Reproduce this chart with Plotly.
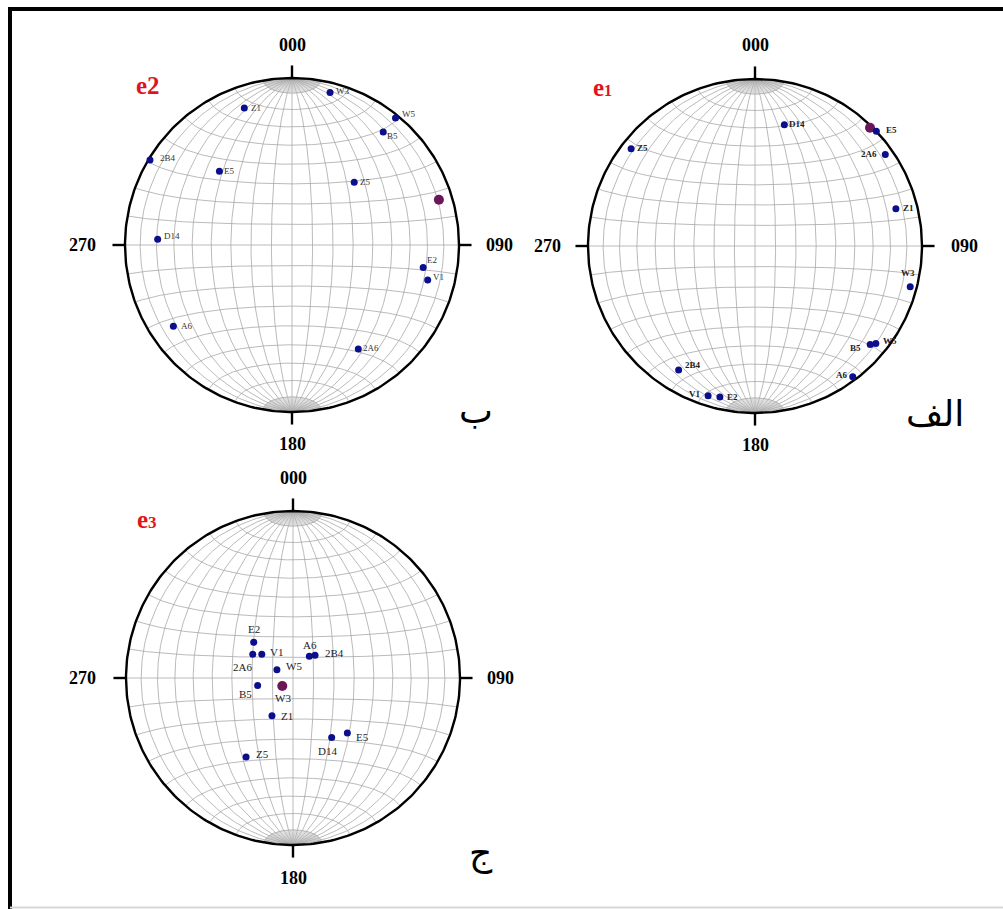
import numpy as np
import plotly.graph_objects as go

# ---------------- data (trend / plunge in degrees, lower hemisphere) ----------------
e1_labels = ["D14", "E5", "Z5", "2A6", "Z1", "W3", "W5", "B5", "A6", "2B4", "V1", "E2"]
e1_trend = [13.6, 46.6, 308.1, 54.9, 75.2, 104.7, 128.9, 130.5, 143.2, 211.6, 197.4, 193.1]
e1_plunge = [26.2, 0.0, 6.4, 5.2, 13.8, 4.4, 7.8, 10.2, 2.6, 13.8, 6.8, 8.0]
e1_mean = [44.2, 1.4]

e2_labels = ["W3", "Z1", "W5", "B5", "2B4", "E5", "Z5", "D14", "E2", "V1", "A6", "2A6"]
e2_trend = [14.0, 340.8, 39.2, 38.9, 300.9, 315.5, 44.8, 272.4, 99.7, 104.5, 235.6, 147.5]
e2_plunge = [6.5, 14.2, 2.2, 14.1, 1.0, 38.0, 46.1, 20.6, 21.4, 17.2, 15.0, 27.0]
e2_mean = [72.9, 8.8]

e3_labels = ["E2", "2A6", "V1", "A6", "2B4", "W5", "B5", "W3", "Z1", "D14", "E5", "Z5"]
e3_trend = [312.3, 300.5, 307.2, 37.0, 44.1, 297.5, 258.2, 233.1, 209.1, 147.0, 135.3, 210.7]
e3_plunge = [64.0, 67.2, 70.9, 76.8, 74.6, 81.2, 72.4, 83.5, 68.9, 55.0, 51.8, 44.2]
e3_mean = [233.1, 83.5]

direction_labels = ["000", "090", "180", "270"]
direction_angles = [0, 90, 180, 270]
panel_titles = {"e1": "e<span style='font-size:16px'>1</span>",
                "e2": "e2",
                "e3": "e<span style='font-size:17px'>3</span>"}
panel_letters = {"e1": "الف", "e2": "ب", "e3": "ج"}

# ---------------- layout / style ----------------
W, H = 1003, 909
R_PX = 167
HALF = 1.3
centers = {"e2": (292, 245), "e1": (755, 246), "e3": (293, 678)}
axis_ids = {"e2": "", "e1": "2", "e3": "3"}
BLUE = "#0c0f8c"
PURPLE = "#6a1658"
GRID = "#a8a8a8"
SERIF = "Liberation Serif"

# label offsets (px): dx, dy (up positive), xanchor
label_style = {
    "e2": {"W3": (4, 1, "left"), "Z1": (5, 0, "left"), "W5": (4, 4, "left"),
           "B5": (2, -4, "left"), "2B4": (8, 2, "left"), "E5": (3, 0, "left"),
           "Z5": (4, 0, "left"), "D14": (4, 3, "left"), "E2": (2, 7, "left"),
           "V1": (3, 3, "left"), "A6": (6, 0, "left"), "2A6": (3, 1, "left")},
    "e1": {"D14": (3, 1, "left"), "E5": (8, 1, "left"), "Z5": (4, 1, "left"),
           "2A6": (-6, 0, "right"), "Z1": (5, 1, "left"), "W3": (-2, 14, "center"),
           "W5": (5, 2, "left"), "B5": (-7, -4, "right"), "A6": (-3, 2, "right"),
           "2B4": (4, 5, "left"), "V1": (-5, 2, "right"), "E2": (5, 0, "left")},
    "e3": {"E2": (0, 13, "center"), "2A6": (-10, -13, "center"), "V1": (6, 2, "left"),
           "A6": (1, 11, "center"), "2B4": (8, 2, "left"), "W5": (7, 4, "left"),
           "B5": (-12, -9, "center"), "W3": (1, -12, "center"), "Z1": (7, 0, "left"),
           "D14": (-4, -13, "center"), "E5": (7, -4, "left"), "Z5": (8, 3, "left")},
}
label_font = {"e1": dict(family=SERIF, size=9, color="#222"),
              "e2": dict(family=SERIF, size=9, color="#333"),
              "e3": dict(family=SERIF, size=11, color="#222")}
label_bold = {"e1": True, "e2": False, "e3": False}


def project(trend, plunge):
    t = np.radians(np.asarray(trend, dtype=float))
    p = np.radians(np.asarray(plunge, dtype=float))
    x = np.cos(p) * np.sin(t)
    y = np.cos(p) * np.cos(t)
    z = np.sin(p)
    s = 1.0 / np.sqrt(1.0 + z)
    return x * s, y * s


def proj_vec(x, y, z):
    s = 1.0 / np.sqrt(1.0 + z)
    return x * s, y * s


def net_lines():
    gx, gy = [], []
    fx, fy = [], []
    t = np.radians(np.linspace(0, 180, 181))
    # great circles through N-S (dips every 10 deg)
    for dip in range(10, 90, 10):
        d = np.radians(dip)
        for sgn in (1, -1):
            x = np.sin(t) * np.cos(d) * sgn
            y = np.cos(t)
            z = np.sin(t) * np.sin(d)
            X, Y = proj_vec(x, y, z)
            gx += list(X) + [None]
            gy += list(Y) + [None]
    gx += [0, 0, None]
    gy += [1, -1, None]
    # small circles about N and S
    for a in range(10, 90, 10):
        al = np.radians(a)
        phi = np.radians(np.linspace(0, 180, 121))
        for sgn in (1, -1):
            x = np.sin(al) * np.cos(phi)
            y = np.cos(al) * np.ones_like(phi) * sgn
            z = np.sin(al) * np.sin(phi)
            X, Y = proj_vec(x, y, z)
            gx += list(X) + [None]
            gy += list(Y) + [None]
    gx += [-1, 1, None]
    gy += [0, 0, None]
    # dense fan near poles (2 deg great circles within 10 deg of poles)
    tp = np.radians(np.linspace(0, 10, 11))
    for dip in range(2, 90, 2):
        if dip % 10 == 0:
            continue
        d = np.radians(dip)
        for sgn in (1, -1):
            for pole in (1, -1):
                x = np.sin(tp) * np.cos(d) * sgn
                y = np.cos(tp) * pole
                z = np.sin(tp) * np.sin(d)
                X, Y = proj_vec(x, y, z)
                fx += list(X) + [None]
                fy += list(Y) + [None]
    return gx, gy, fx, fy


fig = go.Figure()
GX, GY, FX, FY = net_lines()
circ = np.radians(np.linspace(0, 360, 361))

panels = {
    "e1": (e1_labels, e1_trend, e1_plunge, e1_mean, "under"),
    "e2": (e2_labels, e2_trend, e2_plunge, e2_mean, "under"),
    "e3": (e3_labels, e3_trend, e3_plunge, e3_mean, "over"),
}

annotations = []
for key in ["e2", "e1", "e3"]:
    labels, trend, plunge, mean, order = panels[key]
    aid = axis_ids[key]
    xa, ya = "x" + aid, "y" + aid
    # grid
    fig.add_trace(go.Scatter(x=FX, y=FY, mode="lines", xaxis=xa, yaxis=ya,
                             line=dict(color="#c8c8c8", width=0.6), hoverinfo="skip", showlegend=False))
    fig.add_trace(go.Scatter(x=GX, y=GY, mode="lines", xaxis=xa, yaxis=ya,
                             line=dict(color=GRID, width=0.8), hoverinfo="skip", showlegend=False))
    # primitive circle
    fig.add_trace(go.Scatter(x=np.sin(circ), y=np.cos(circ), mode="lines", xaxis=xa, yaxis=ya,
                             line=dict(color="black", width=2.4), hoverinfo="skip", showlegend=False))
    # ticks
    tx, ty = [], []
    for ang in direction_angles:
        a = np.radians(ang)
        tx += [np.sin(a), 1.075 * np.sin(a), None]
        ty += [np.cos(a), 1.075 * np.cos(a), None]
    fig.add_trace(go.Scatter(x=tx, y=ty, mode="lines", xaxis=xa, yaxis=ya,
                             line=dict(color="black", width=2.4), hoverinfo="skip", showlegend=False))
    px_, py_ = project(trend, plunge)
    mx, my = project([mean[0]], [mean[1]])
    mean_tr = go.Scatter(x=mx, y=my, mode="markers", xaxis=xa, yaxis=ya,
                         marker=dict(color=PURPLE, size=10, line=dict(width=0)),
                         hoverinfo="skip", showlegend=False, cliponaxis=False)
    pts_tr = go.Scatter(x=px_, y=py_, mode="markers", xaxis=xa, yaxis=ya,
                        marker=dict(color=BLUE, size=7, line=dict(width=0)),
                        hoverinfo="skip", showlegend=False, cliponaxis=False)
    if order == "under":
        fig.add_trace(mean_tr)
        fig.add_trace(pts_tr)
    else:
        fig.add_trace(pts_tr)
        fig.add_trace(mean_tr)
    # point labels
    for lab, X, Y in zip(labels, px_, py_):
        dx, dy, anc = label_style[key][lab]
        txt = "<b>" + lab + "</b>" if label_bold[key] else lab
        annotations.append(dict(x=X, y=Y, xref=xa, yref=ya, text=txt, showarrow=False,
                                xanchor=anc, yanchor="middle", xshift=dx, yshift=dy,
                                font=label_font[key]))
    # direction labels
    if key == "e1":
        dpos = {"000": (0, 1.205), "090": (1.257, 0), "180": (0, -1.19), "270": (-1.24, 0)}
    elif key == "e2":
        dpos = {"000": (0, 1.198), "090": (1.245, 0), "180": (0, -1.19), "270": (-1.257, 0)}
    else:
        dpos = {"000": (0, 1.198), "090": (1.24, 0), "180": (0, -1.198), "270": (-1.263, 0)}
    for lab in direction_labels:
        X, Y = dpos[lab]
        annotations.append(dict(x=X, y=Y, xref=xa, yref=ya, text="<b>" + lab + "</b>",
                                showarrow=False, xanchor="center", yanchor="middle",
                                font=dict(family=SERIF, size=18, color="black")))
    # panel title
    tpos = {"e1": (-0.915, 0.95), "e2": (-0.862, 0.958), "e3": (-0.875, 0.95)}[key]
    annotations.append(dict(x=tpos[0], y=tpos[1], xref=xa, yref=ya,
                            text="<b>" + panel_titles[key] + "</b>", showarrow=False,
                            xanchor="center", yanchor="middle",
                            font=dict(family=SERIF, size=25, color="#e0141e")))
    # panel letter
    lpos = {"e1": (1.08, -1.0), "e2": (1.1, -0.99), "e3": (1.126, -1.05)}[key]
    annotations.append(dict(x=lpos[0], y=lpos[1], xref=xa, yref=ya,
                            text=panel_letters[key], showarrow=False,
                            xanchor="center", yanchor="middle",
                            font=dict(family="DejaVu Sans", size=36, color="black")))

layout_axes = {}
for key, (cx, cy) in centers.items():
    aid = axis_ids[key]
    half_px = HALF * R_PX
    xd = [(cx - half_px) / W, (cx + half_px) / W]
    yb = H - cy
    yd = [(yb - half_px) / H, (yb + half_px) / H]
    layout_axes["xaxis" + aid] = dict(domain=xd, range=[-HALF, HALF], visible=False,
                                      fixedrange=True, anchor="y" + aid)
    layout_axes["yaxis" + aid] = dict(domain=yd, range=[-HALF, HALF], visible=False,
                                      fixedrange=True, anchor="x" + aid)

shapes = [
    dict(type="line", xref="paper", yref="paper", x0=8 / W, x1=1.0, y0=1 - 9 / H, y1=1 - 9 / H,
         line=dict(color="black", width=4)),
    dict(type="line", xref="paper", yref="paper", x0=10 / W, x1=10 / W, y0=1 - 7 / H, y1=0,
         line=dict(color="black", width=4)),
    dict(type="line", xref="paper", yref="paper", x0=10 / W, x1=1.0, y0=1.5 / H, y1=1.5 / H,
         line=dict(color="#d8d8d8", width=2)),
]

fig.update_layout(width=W, height=H, margin=dict(l=0, r=0, t=0, b=0),
                  paper_bgcolor="white", plot_bgcolor="white",
                  annotations=annotations, shapes=shapes, showlegend=False,
                  **layout_axes)

fig.write_html("out.html", config={"displayModeBar": False},
               post_script="document.body.style.margin='0';document.body.style.overflow='hidden';")
